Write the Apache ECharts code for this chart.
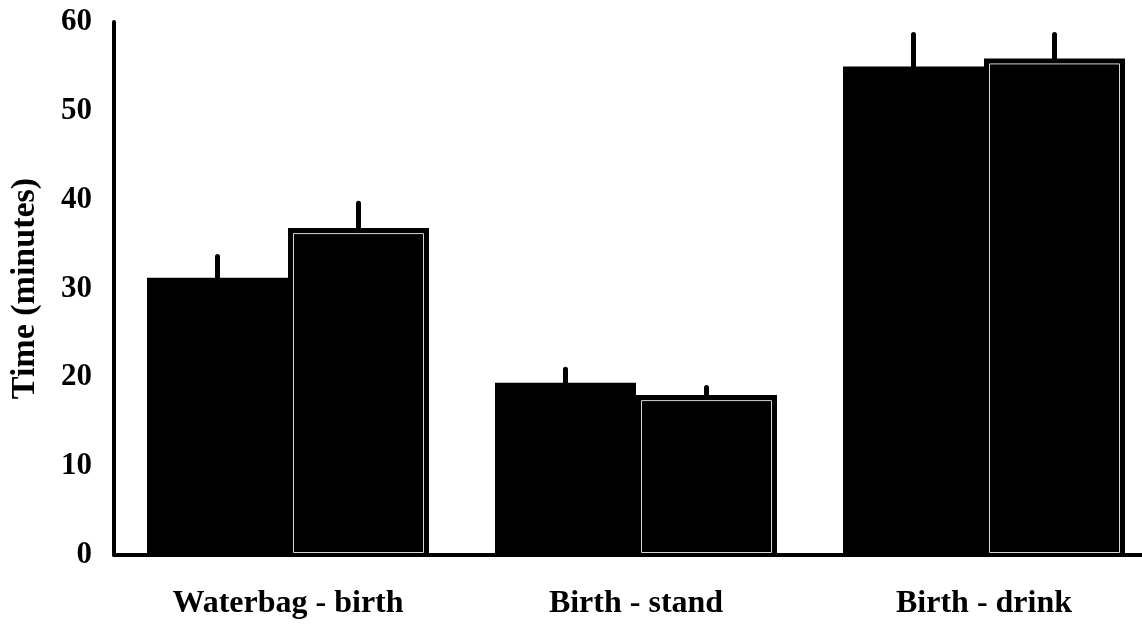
<!DOCTYPE html>
<html>
<head>
<meta charset="utf-8">
<script src="https://cdn.jsdelivr.net/npm/echarts@6/dist/echarts.min.js"></script>
<style>
  html, body { margin: 0; padding: 0; background: #fff; overflow: hidden; }
  #chart { width: 1142px; height: 626px; }
</style>
</head>
<body>
<div id="chart"></div>
<script>
// Time intervals (minutes), two groups per interval, mean with upper error
const categories = ['Waterbag - birth', 'Birth - stand', 'Birth - drink'];
const groupA = [31.2, 19.4, 55.0];
const errorA = [2.4, 1.5, 3.6];
const groupB = [36.8, 18.0, 55.9];
const errorB = [2.8, 0.85, 2.7];
const yMin = 0, yMax = 60, yStep = 10;

const BAR_W = 141;
const FONT = "'Liberation Serif', 'Times New Roman', serif";

function toData(means, errs) {
  return means.map((m, i) => [i, m, errs[i]]);
}

// side: -1 draws the bar left of the category centre, +1 to the right
function makeBar(side, outlined) {
  return function (params, api) {
    const cat = api.value(0);
    const mean = api.value(1);
    const err = api.value(2);
    const base = api.coord([cat, 0]);
    const top = api.coord([cat, mean]);
    const upper = api.coord([cat, mean + err]);
    const x0 = side < 0 ? base[0] - BAR_W : base[0];
    const h = base[1] - top[1];
    const cx = x0 + BAR_W / 2;
    const children = [
      { type: 'rect', shape: { x: x0, y: top[1], width: BAR_W, height: h },
        style: { fill: '#000' } }
    ];
    if (outlined) {
      children.push({
        type: 'rect',
        shape: { x: x0 + 5.5, y: top[1] + 5.5, width: BAR_W - 11, height: h - 8 },
        style: { fill: null, stroke: '#d6d6d6', lineWidth: 1 }
      });
    }
    children.push({
      type: 'line',
      shape: { x1: cx, y1: top[1] + 2, x2: cx, y2: upper[1] },
      style: { stroke: '#000', lineWidth: 5, lineCap: 'round' }
    });
    return { type: 'group', children };
  };
}

const chart = echarts.init(document.getElementById('chart'), null, { renderer: 'canvas' });
chart.setOption({
  animation: false,
  backgroundColor: '#fff',
  grid: { left: 114, top: 22, width: 1044, height: 533, outerBoundsMode: 'none', containLabel: false },
  xAxis: {
    type: 'category',
    data: categories,
    axisTick: { show: false },
    axisLine: { show: true, lineStyle: { color: '#000', width: 4 } },
    axisLabel: {
      color: '#000', fontFamily: FONT, fontWeight: 'bold', fontSize: 32, margin: 33
    }
  },
  yAxis: {
    type: 'value',
    min: yMin, max: yMax, interval: yStep,
    name: 'Time (minutes)',
    nameLocation: 'middle',
    nameRotate: 90,
    nameGap: 72,
    nameTextStyle: { color: '#000', fontFamily: FONT, fontWeight: 'bold', fontSize: 34 },
    splitLine: { show: false },
    axisTick: { show: false },
    axisLine: { show: true, lineStyle: { color: '#000', width: 4, cap: 'round' } },
    axisLabel: {
      color: '#000', fontFamily: FONT, fontWeight: 'bold', fontSize: 31, margin: 22
    }
  },
  series: [
    { type: 'custom', data: toData(groupA, errorA), encode: { x: 0, y: 1 },
      renderItem: makeBar(-1, false) },
    { type: 'custom', data: toData(groupB, errorB), encode: { x: 0, y: 1 },
      renderItem: makeBar(1, true) }
  ]
});
</script>
</body>
</html>
